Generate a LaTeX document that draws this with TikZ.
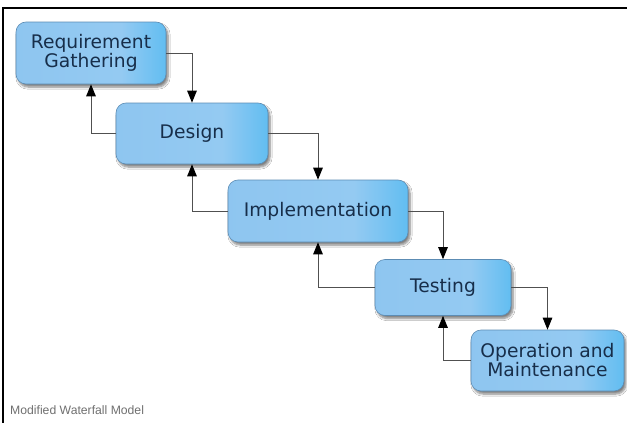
\documentclass[tikz,border=0pt]{standalone}
\usepackage{fontspec}
\setmainfont{DejaVu Sans}
\newfontfamily\capfont{Liberation Sans}
\usetikzlibrary{arrows.meta,shadows.blur}
\definecolor{boxL}{HTML}{8AC2EE}
\definecolor{boxM}{HTML}{94CAF2}
\definecolor{boxR}{HTML}{0EA8F0}
\definecolor{boxB}{HTML}{5C8CB4}
\definecolor{boxT}{HTML}{172E4A}
\definecolor{lineC}{HTML}{505050}
\definecolor{capC}{HTML}{707070}
\pgfdeclarehorizontalshading{boxshade}{100bp}{color(0bp)=(boxL); color(60bp)=(boxM); color(100bp)=(boxR)}
\tikzset{
  phase/.style={draw=boxB, line width=0.6pt, rounded corners=10pt, shading=boxshade,
    text=boxT, align=center, inner sep=0pt,
    font=\fontsize{18.7}{19}\selectfont,
    blur shadow={shadow xshift=2pt, shadow yshift=-3pt, shadow blur steps=6, shadow opacity=50}},
  flow/.style={draw=lineC, line width=1pt, -{Triangle[length=12pt,width=9.5pt,fill=black,color=black]}},
  frameline/.style={draw=black, line width=1.6pt}
}
\begin{document}
\begin{tikzpicture}[x=1pt,y=-1pt]
\useasboundingbox (0,0) rectangle (627,423);
\fill[white] (0,0) rectangle (627,423);
\coordinate (ftl) at (3,8);
\coordinate (ftr) at (627,8);
\coordinate (fbl) at (3,423);
\draw[frameline] (ftr) -- (ftl) -- (fbl);

\node[phase, minimum width=150pt, minimum height=62pt] (rg) at (91,53) {Requirement\\Gathering};
\node[phase, minimum width=152pt, minimum height=61pt] (d) at (192,133.5) {Design};
\node[phase, minimum width=180pt, minimum height=62pt] (im) at (318,211) {Implementation};
\node[phase, minimum width=136pt, minimum height=56pt] (t) at (443,287.5) {Testing};
\node[phase, minimum width=153pt, minimum height=61pt] (o) at (547.5,360.5) {Operation and\\Maintenance};

\draw[flow] (rg.east) -| (d.north);
\draw[flow] (d.west) -| (rg.south);
\draw[flow] (d.east) -| (im.north);
\draw[flow] (im.west) -| (d.south);
\draw[flow] (im.east) -| (t.north);
\draw[flow] (t.west) -| (im.south);
\draw[flow] (t.east) -| (o.north);
\draw[flow] (o.west) -| (t.south);

\node[anchor=base west, inner sep=0pt, text=capC, font=\capfont\fontsize{12.2}{14}\selectfont] (cap) at (10,414) {Modified Waterfall Model};
\end{tikzpicture}
\end{document}
